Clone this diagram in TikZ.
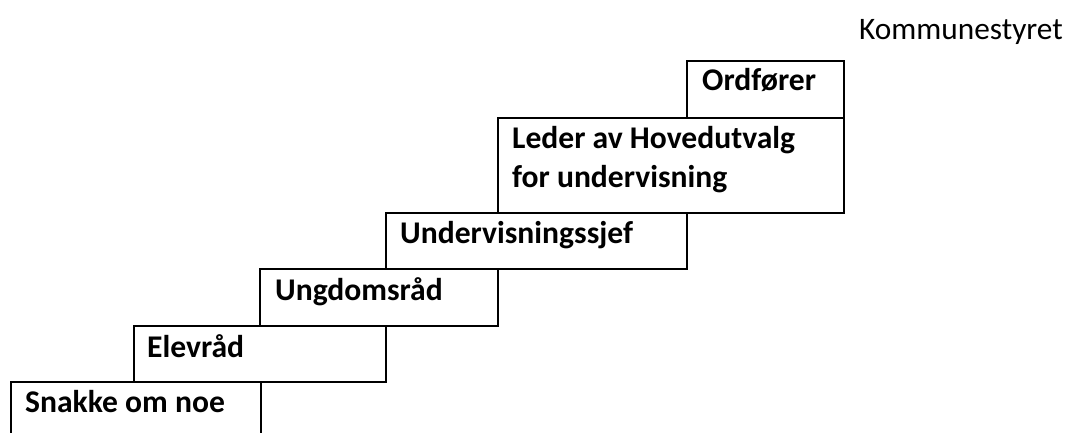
\documentclass[tikz,border=0pt]{standalone}
\usepackage{fontspec}
\setmainfont{Carlito}
\usetikzlibrary{calc}
\tikzset{
  stepbox/.style={draw=black, line width=2.4pt, rectangle, inner sep=0pt, anchor=north west},
  lbl/.style={inner sep=0pt, anchor=base west, font=\fontsize{31.6}{39}\selectfont\bfseries},
  toplbl/.style={inner sep=0pt, anchor=base west, font=\fontsize{31.3}{39}\selectfont}
}
\begin{document}
\begin{tikzpicture}[x=1pt,y=-1pt]
\useasboundingbox (0,0) rectangle (1070,432);
\clip (0,0) rectangle (1070,432);
% boxes
\node[stepbox, minimum width=250pt, minimum height=70pt] (b1) at (10,381) {};
\node[stepbox, minimum width=252pt, minimum height=56pt] (b2) at (133,325) {};
\node[stepbox, minimum width=238pt, minimum height=57pt] (b3) at (259,268) {};
\node[stepbox, minimum width=301pt, minimum height=56pt] (b4) at (385,212) {};
\node[stepbox, minimum width=346pt, minimum height=95pt] (b5) at (497,117) {};
\node[stepbox, minimum width=157pt, minimum height=57pt] (b6) at (686,60) {};
% labels
\node[lbl] (t1) at ($(b1.north west)+(15,31)$) {Snakke om noe};
\node[lbl] (t2) at ($(b2.north west)+(14,32)$) {Elevråd};
\node[lbl] (t3) at ($(b3.north west)+(16,32)$) {Ungdomsråd};
\node[lbl] (t4) at ($(b4.north west)+(15,31)$) {Undervisningssjef};
\node[lbl] (t5a) at ($(b5.north west)+(15,31)$) {Leder av Hovedutvalg};
\node[lbl] (t5b) at ($(b5.north west)+(15,70)$) {for undervisning};
\node[lbl] (t6) at ($(b6.north west)+(16,30)$) {Ordfører};
\node[toplbl] (top) at (859,39) {Kommunestyret};
\end{tikzpicture}
\end{document}
